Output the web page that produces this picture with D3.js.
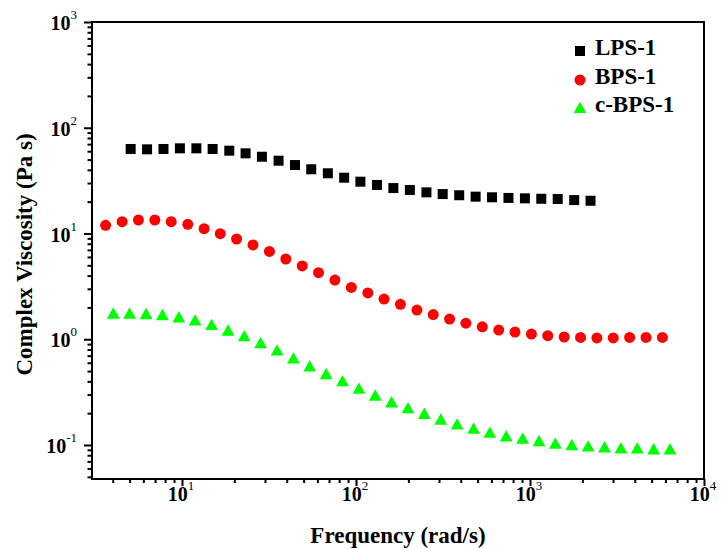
<!DOCTYPE html>
<html><head><meta charset="utf-8">
<script src="https://cdn.jsdelivr.net/npm/d3@7"></script>
<style>
body{margin:0;background:#fff}
text{font-family:"Times New Roman","Liberation Serif",serif;font-weight:bold;fill:#000}
</style>
</head><body>
<svg id="chart" width="723" height="549"></svg>
<script>
// ---- data ----
const seriesNames = ["LPS-1", "BPS-1", "c-BPS-1"];
const seriesColors = ["#000000", "#ff0000", "#00ff00"];

const lpsFreq = [5.07, 6.30, 7.83, 9.73, 12.1, 15.0, 18.7, 23.2, 28.8, 35.9, 44.6, 55.3, 68.9, 85.5, 106, 132, 164, 204, 254, 315, 392, 487, 605, 752, 935, 1161, 1443, 1795, 2228];
const lpsVisc = [63.0, 62.5, 63.0, 63.9, 63.9, 63.0, 60.7, 57.3, 53.2, 48.8, 44.4, 40.5, 37.1, 33.7, 30.9, 28.8, 26.9, 25.8, 24.5, 23.6, 23.0, 22.3, 22.0, 21.7, 21.5, 21.3, 21.2, 20.7, 20.4];

const bpsFreq = [3.64, 4.53, 5.62, 6.98, 8.67, 10.8, 13.4, 16.6, 20.6, 25.6, 31.8, 39.5, 49.1, 60.9, 75.7, 94.0, 117, 145, 180, 224, 278, 345, 428, 532, 661, 820, 1019, 1265, 1572, 1952, 2424, 3010, 3738, 4643, 5766];
const bpsVisc = [11.95, 12.93, 13.42, 13.42, 12.93, 12.22, 11.10, 9.96, 8.87, 7.79, 6.76, 5.74, 4.93, 4.26, 3.63, 3.09, 2.74, 2.40, 2.14, 1.89, 1.71, 1.55, 1.42, 1.31, 1.22, 1.17, 1.12, 1.08, 1.05, 1.04, 1.03, 1.03, 1.04, 1.04, 1.04];

const cbpsFreq = [4.03, 5.00, 6.22, 7.72, 9.59, 11.9, 14.8, 18.4, 22.8, 28.3, 35.2, 43.7, 54.2, 67.4, 83.7, 104, 129, 160, 199, 247, 307, 381, 474, 588, 730, 907, 1127, 1399, 1738, 2158, 2681, 3330, 4135, 5135, 6377];
const cbpsVisc = [1.77, 1.77, 1.75, 1.71, 1.63, 1.52, 1.38, 1.22, 1.08, 0.928, 0.791, 0.665, 0.561, 0.474, 0.405, 0.344, 0.296, 0.256, 0.225, 0.199, 0.176, 0.158, 0.144, 0.132, 0.122, 0.116, 0.110, 0.104, 0.101, 0.098, 0.096, 0.094, 0.094, 0.092, 0.092];

const xTickExponents = [1, 2, 3, 4];
const yTickExponents = [-1, 0, 1, 2, 3];
const xTitle = "Frequency (rad/s)";
const yTitle = "Complex Viscosity (Pa s)";

// ---- layout ----
const L = 92, R = 704, T = 22, B = 479;
const svg = d3.select("#chart");
const x = d3.scaleLog().domain([3.04, 10000]).range([L, R]);
const y = d3.scaleLog().domain([0.0477, 1000]).range([B, T]);

function logTicks(scale) {
  const [a, b] = scale.domain();
  const out = [];
  for (let e = Math.floor(Math.log10(a)); e <= Math.ceil(Math.log10(b)); e++) {
    for (let k = 1; k <= 9; k++) {
      const v = k * Math.pow(10, e);
      if (v >= a * 0.999 && v <= b * 1.001) out.push(v);
    }
  }
  return out;
}
const isMajor = d => Math.abs(Math.log10(d) - Math.round(Math.log10(d))) < 1e-9;

// y axis
const gy = svg.append("g").attr("transform", `translate(${L},0)`)
  .call(d3.axisLeft(y).tickValues(logTicks(y)).tickSize(8).tickFormat(""));
gy.select(".domain").remove();
gy.selectAll(".tick line").attr("x2", d => isMajor(d) ? -8 : -4.5).attr("stroke", "#000").attr("stroke-width", 2);

// x axis
const gx = svg.append("g").attr("transform", `translate(0,${B})`)
  .call(d3.axisBottom(x).tickValues(logTicks(x)).tickSize(7).tickFormat(""));
gx.select(".domain").remove();
gx.selectAll(".tick line").attr("y2", d => isMajor(d) ? 7 : 4).attr("stroke", "#000").attr("stroke-width", 2);

// frame
svg.append("rect").attr("x", L).attr("y", T).attr("width", R - L).attr("height", B - T)
  .attr("fill", "none").attr("stroke", "#000").attr("stroke-width", 2);

// y tick labels
yTickExponents.forEach(e => {
  const t = svg.append("text").attr("x", 77).attr("y", y(Math.pow(10, e)) + 8)
    .attr("text-anchor", "end");
  t.append("tspan").attr("font-size", 20).text("10");
  t.append("tspan").attr("font-size", 13).attr("font-weight", "normal").attr("dy", -11).text(String(e));
});
// x tick labels
xTickExponents.forEach(e => {
  const t = svg.append("text").attr("x", x(Math.pow(10, e)) - 1).attr("y", 501)
    .attr("text-anchor", "middle");
  t.append("tspan").attr("font-size", 20).text("10");
  t.append("tspan").attr("font-size", 13).attr("font-weight", "normal").attr("dy", -11).text(String(e));
});

// titles
svg.append("text").attr("x", (L + R) / 2).attr("y", 543).attr("text-anchor", "middle")
  .attr("font-size", 23).text(xTitle);
svg.append("text").attr("transform", `translate(32,${(T + B) / 2 + 4}) rotate(-90)`)
  .attr("text-anchor", "middle").attr("font-size", 23).text(yTitle);

// markers
function drawMarker(g, shape, color) {
  if (shape === 0) g.append("rect").attr("x", -5).attr("y", -5).attr("width", 10).attr("height", 10).attr("fill", color);
  else if (shape === 1) g.append("circle").attr("r", 5.5).attr("fill", color);
  else g.append("path").attr("d", "M0,-5.8L6.4,5.6L-6.4,5.6Z").attr("fill", color);
}
const series = [
  {freq: lpsFreq, visc: lpsVisc},
  {freq: bpsFreq, visc: bpsVisc},
  {freq: cbpsFreq, visc: cbpsVisc}
];
series.forEach((s, i) => {
  const pts = s.freq.map((f, j) => ({f, v: s.visc[j]}));
  svg.append("g").selectAll("g").data(pts).join("g")
    .attr("transform", d => `translate(${x(d.f)},${y(d.v)})`)
    .each(function () { drawMarker(d3.select(this), i, seriesColors[i]); });
});

// legend
const legendSymY = [51, 80, 107.5];
const legendTextY = [55, 84, 112];
seriesNames.forEach((name, i) => {
  const g = svg.append("g").attr("transform", `translate(580,${legendSymY[i]})`);
  drawMarker(g, i, seriesColors[i]);
  svg.append("text").attr("x", 595).attr("y", legendTextY[i]).attr("font-size", 23).text(name);
});
</script>
</body></html>
